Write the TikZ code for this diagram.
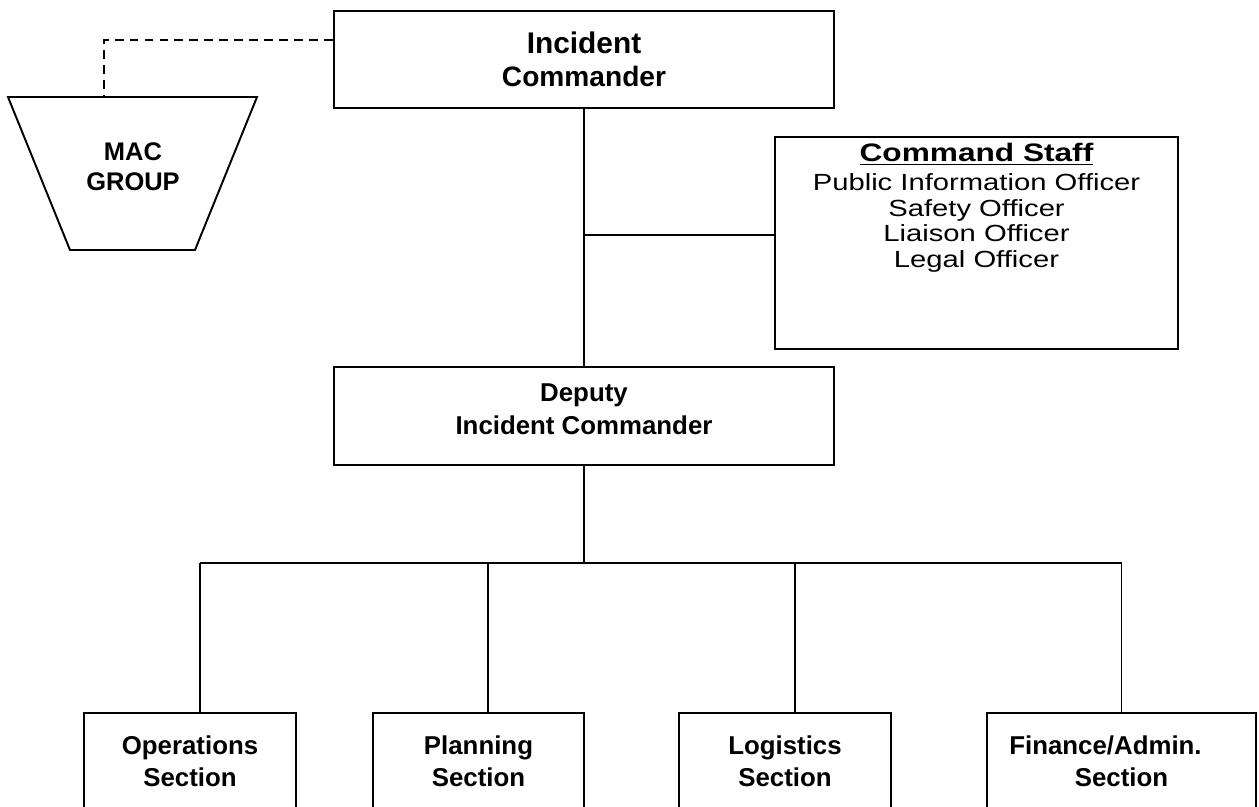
\documentclass[tikz,border=0pt]{standalone}
\usepackage{fontspec}
\setmainfont{Liberation Sans}
\newfontfamily\stafffont{Liberation Sans}[FakeStretch=1.25]
\begin{document}
\begin{tikzpicture}[x=0.02cm, y=-0.02cm, line width=1.1pt,
    box/.style={draw, rectangle, align=center, inner sep=0pt, font=\bfseries\fontsize{14.7}{19}\selectfont},
    sect/.style={box, minimum height=1.92cm, font=\bfseries\fontsize{14.7}{18}\selectfont},
    dash line/.style={dashed, dash pattern=on 5pt off 3.5pt}]
	\useasboundingbox (0,0) rectangle (1259,806);
	\clip (0,0) rectangle (1259,806);

	\node[box, minimum width=10.02cm, minimum height=1.94cm] (ic) at (584, 59.5) {\fontsize{17}{20}\selectfont Incident\\\fontsize{16}{20}\selectfont Commander};
	\node[box, minimum width=8.06cm, minimum height=4.24cm] (staff) at (976.5, 243) {};
	\node[anchor=north, align=center, inner sep=0pt, font=\stafffont\fontsize{13.3}{14.7}\selectfont] (stafftxt) at ([yshift=-0.12cm]staff.north) {{\bfseries\fontsize{14.4}{16}\selectfont\underline{Command Staff}}\\[1.7pt]Public Information Officer\\Safety Officer\\Liaison Officer\\Legal Officer};
	\node[box, minimum width=10.02cm, minimum height=1.96cm, text depth=0.28cm] (deputy) at (584, 416) {Deputy\\Incident Commander};

	\draw (8, 97) -- (257, 97) -- (195, 250) -- (70, 250) -- cycle;
	\node[align=center, font=\bfseries\fontsize{14.5}{17}\selectfont] (mac) at (133, 167) {MAC\\GROUP};
	\coordinate (mactop) at (104, 97);

	\node[sect, minimum width=4.24cm] (ops) at (190, 761) {Operations\\Section};
	\node[sect, minimum width=4.22cm] (plan) at (478.5, 761) {Planning\\Section};
	\node[sect, minimum width=4.24cm] (log) at (785, 761) {Logistics\\Section};
	\node[sect, minimum width=5.38cm] (fin) at (1121.5, 761) {Finance/Admin.\rule{0.64cm}{0pt}\\Section};

	\coordinate (cs) at ([yshift=0.16cm]staff.west);
	\coordinate (bus) at (584, 563);

	\draw[dash line] ([yshift=-0.6cm]ic.north west) -| (mactop);
	\draw (ic.south) -- (deputy.north);
	\draw (cs) -- (cs -| ic.south);
	\draw (deputy.south) -- (bus);
	\draw ([xshift=0.2cm]ops.north |- bus) -- (fin.north |- bus);
	\foreach \n/\dx in {ops/0.2, plan/0.19, log/0.2, fin/0}
		\draw ([xshift=\dx cm]\n.north) -- ([xshift=\dx cm]\n.north |- bus);
\end{tikzpicture}
\end{document}
